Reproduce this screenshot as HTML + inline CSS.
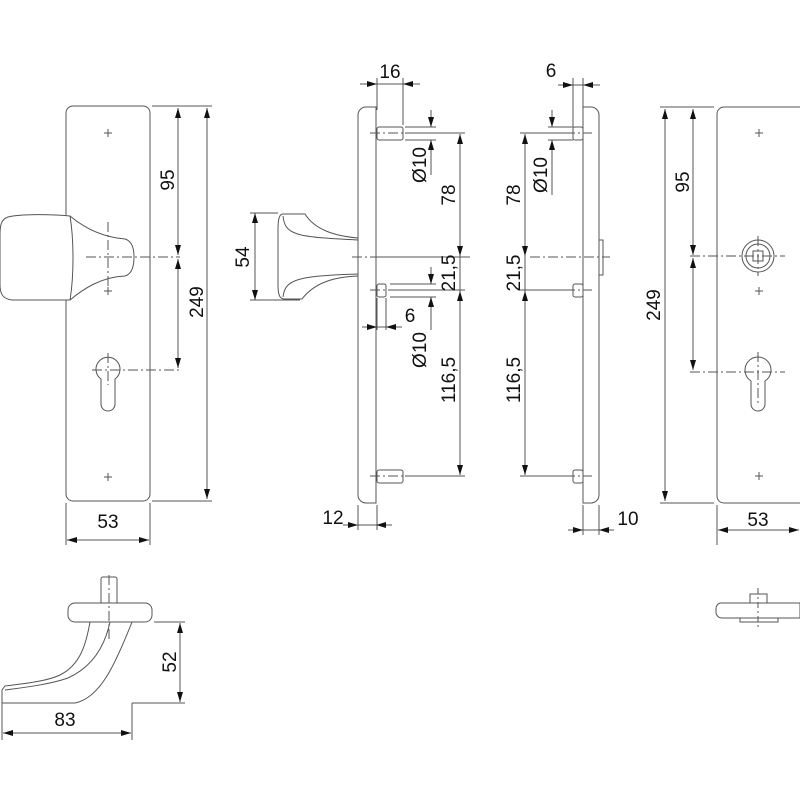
<!DOCTYPE html>
<html><head><meta charset="utf-8"><style>
html,body{margin:0;padding:0;background:#fff;}
svg{display:block;}
text{font-family:"Liberation Sans",sans-serif;font-size:19px;fill:#111;}
</style></head><body>
<svg width="800" height="800" viewBox="0 0 800 800" xmlns="http://www.w3.org/2000/svg">
<defs>
<marker id="a" viewBox="0 0 10 6" refX="10" refY="3" markerWidth="13" markerHeight="6" orient="auto-start-reverse" markerUnits="userSpaceOnUse"><path d="M0,0 L10,3 L0,6 z" fill="#111"/></marker>
</defs>
<g fill="none" stroke="#555" stroke-width="1">
<!-- LEFT PLATE -->
<rect x="66" y="106" width="84" height="395" rx="7"/>
<path d="M104,133h8M108,129v8 M104,291h8M108,287v8 M104,477h8M108,473v8 M104,243h8M108,239v8"/>
<path d="M101,379 A12,12 0 1 1 115,379 V404 a7,7 0 0 1 -14,0 Z"/>
<!-- knob -->
<path d="M70,216 C50,214 20,214 8,217 C1,219 0,226 0,235 L0,285 C0,294 3,299 12,300 L70,300 C82,290 100,277 125,276 C132,274 134,266 134,257 C134,248 132,241 125,239 C100,237 82,226 70,216 Z" fill="#fff"/>
<path d="M70,216 C74,240 74,276 70,300"/>
<g stroke-dasharray="10,3,2,3"><path d="M86,257H180 M108,222V292 M92,370H180 M108,353V385"/></g>
<!-- dims left -->
<path d="M152,106H212 M152,501H212"/>
<path d="M178,108V255" marker-start="url(#a)" marker-end="url(#a)"/>
<path d="M178,259V368" marker-start="url(#a)" marker-end="url(#a)"/>
<path d="M207,108V499" marker-start="url(#a)" marker-end="url(#a)"/>
<path d="M66,503V545 M150,503V545"/>
<path d="M67,540H149" marker-start="url(#a)" marker-end="url(#a)"/>

<!-- MIDDLE SIDE VIEW -->
<path d="M376,107V503 H366 a8,8 0 0 1 -8,-8 V115 a8,8 0 0 1 8,-8 Z" fill="#fff"/>
<rect x="377" y="127" width="26" height="13" rx="2"/>
<rect x="377" y="284" width="9" height="13" rx="2"/>
<rect x="377" y="470" width="26" height="13" rx="2"/>
<path d="M358,238 C335,236 315,230 305,214 L283,214 C279,214 278,220 278,230 L278,285 C278,296 280,299 285,299 L302,299 C315,282 335,277 358,276"/>
<path d="M283,216 C285,235 295,237 358,240 M283,297 C285,280 295,276 358,274"/>
<g stroke-dasharray="10,3,2,3"><path d="M370,133H440 M370,290H435 M370,476H440 M352,257H470"/></g>
<path d="M403,125V78 M377,78V110 M377,505V530 M358,505V530 M377,298V330 M386,298V330"/>
<path d="M360,84H377" marker-end="url(#a)"/><path d="M403,84H420" marker-start="url(#a)"/><path d="M377,84H403"/>
<path d="M343,525H358" marker-end="url(#a)"/><path d="M376,525H392" marker-start="url(#a)"/><path d="M358,525H376"/>
<path d="M362,327H377" marker-end="url(#a)"/><path d="M386,327H402" marker-start="url(#a)"/><path d="M377,327H386"/>
<path d="M255,213V300" marker-start="url(#a)" marker-end="url(#a)"/>
<path d="M250,213H278 M250,300H300"/>
<path d="M405,127H436 M405,140H436 M390,284H436 M390,297H436 M405,133H465 M390,290H465 M405,476H465 M380,257H465"/>
<path d="M431,110V127" marker-end="url(#a)"/><path d="M431,140V157" marker-start="url(#a)"/><path d="M431,157V175"/>
<path d="M431,267V284" marker-end="url(#a)"/><path d="M431,297V314" marker-start="url(#a)"/><path d="M431,314V330"/>
<path d="M460,134V256" marker-start="url(#a)" marker-end="url(#a)"/>
<path d="M460,256V291" />
<path d="M460,291V475" marker-start="url(#a)" marker-end="url(#a)"/>

<!-- RIGHT SIDE VIEW -->
<path d="M583,107V503 H591 a8,8 0 0 0 8,-8 V115 a8,8 0 0 0 -8,-8 Z" fill="#fff"/>
<rect x="573" y="127" width="10" height="13" rx="2"/>
<rect x="573" y="284" width="10" height="13" rx="2"/>
<rect x="573" y="470" width="10" height="13" rx="2"/>
<rect x="599" y="240" width="4" height="35"/>
<g stroke-dasharray="10,3,2,3"><path d="M565,133H592 M565,290H592 M565,476H592 M530,257H610"/></g>
<path d="M573,78V127 M583,78V110 M583,505V535 M599,505V535"/>
<path d="M558,85H573" marker-end="url(#a)"/><path d="M583,85H600" marker-start="url(#a)"/><path d="M573,85H583"/>
<path d="M568,530H583" marker-end="url(#a)"/><path d="M599,530H614" marker-start="url(#a)"/><path d="M583,530H599"/>
<path d="M548,127H573 M548,140H573 M520,133H573 M520,290H573 M520,476H573"/>
<path d="M552,110V127" marker-end="url(#a)"/><path d="M552,140V157" marker-start="url(#a)"/><path d="M552,157V195"/>
<path d="M525,134V256" marker-start="url(#a)" marker-end="url(#a)"/>
<path d="M525,256V291"/>
<path d="M525,291V475" marker-start="url(#a)" marker-end="url(#a)"/>

<!-- RIGHT PLATE -->
<rect x="717" y="107" width="90" height="396" rx="7"/>
<path d="M755,133h8M759,129v8 M755,291h8M759,287v8 M755,476h8M759,472v8"/>
<circle cx="758" cy="256" r="16"/><circle cx="758" cy="256" r="12"/>
<rect x="753" y="251" width="10" height="10"/>
<path d="M751,381 A13,13 0 1 1 765,381 V404 a7,7 0 0 1 -14,0 Z"/>
<g stroke-dasharray="10,3,2,3"><path d="M690,256H785 M758,236V276 M690,372H785 M758,352V405"/></g>
<path d="M660,107H714 M660,503H714"/>
<path d="M665,109V501" marker-start="url(#a)" marker-end="url(#a)"/>
<path d="M693,109V255" marker-start="url(#a)" marker-end="url(#a)"/>
<path d="M693,258V370" marker-start="url(#a)" marker-end="url(#a)"/>
<path d="M717,505V545"/>
<path d="M718,530H799" marker-start="url(#a)" marker-end="url(#a)"/>

<!-- BOTTOM LEFT HANDLE -->
<rect x="101" y="577" width="16" height="27" rx="2"/>
<path d="M75,603H145 a7,7 0 0 1 7,7 v5 a7,7 0 0 1 -7,7 H75 a7,7 0 0 1 -7,-7 v-5 a7,7 0 0 1 7,-7z" fill="#fff"/>
<path d="M90,622 C86,645 80,665 60,675 C45,682 20,684 5,686 L2,690 V703 L75,703 C100,698 115,665 132,622"/>
<path d="M110,622 C104,650 90,668 68,678 C48,685 20,688 5,690"/>
<g stroke-dasharray="10,3,2,3"><path d="M109,575V640"/></g>
<path d="M154,622H185 M132,703H185 M2,703V740 M132,703V740"/>
<path d="M180,623V702" marker-start="url(#a)" marker-end="url(#a)"/>
<path d="M3,733H131" marker-start="url(#a)" marker-end="url(#a)"/>

<!-- BOTTOM RIGHT -->
<rect x="750" y="594" width="17" height="9"/>
<path d="M720,603H800 V618 H722 a6,6 0 0 1 -6,-6 v-3 a6,6 0 0 1 4,-6z"/>
<rect x="740" y="618" width="38" height="4"/>
<g stroke-dasharray="6,3,2,3"><path d="M758,588V628"/></g>
</g>

<!-- TEXT -->
<text x="108" y="528" text-anchor="middle">53</text>
<text x="758" y="526" text-anchor="middle">53</text>
<text x="390" y="78" text-anchor="middle">16</text>
<text x="551" y="77" text-anchor="middle">6</text>
<text x="410" y="322" text-anchor="middle">6</text>
<text x="333" y="524" text-anchor="middle">12</text>
<text x="628" y="525" text-anchor="middle">10</text>
<text x="65" y="726" text-anchor="middle">83</text>
<g>
<text transform="translate(174,180) rotate(-90)" text-anchor="middle">95</text>
<text transform="translate(203,302) rotate(-90)" text-anchor="middle">249</text>
<text transform="translate(249,257) rotate(-90)" text-anchor="middle">54</text>
<text transform="translate(426,165) rotate(-90)" text-anchor="middle">Ø10</text>
<text transform="translate(455,195) rotate(-90)" text-anchor="middle">78</text>
<text transform="translate(455,273) rotate(-90)" text-anchor="middle">21,5</text>
<text transform="translate(426,350) rotate(-90)" text-anchor="middle">Ø10</text>
<text transform="translate(455,380) rotate(-90)" text-anchor="middle">116,5</text>
<text transform="translate(520,195) rotate(-90)" text-anchor="middle">78</text>
<text transform="translate(547,175) rotate(-90)" text-anchor="middle">Ø10</text>
<text transform="translate(520,273) rotate(-90)" text-anchor="middle">21,5</text>
<text transform="translate(520,380) rotate(-90)" text-anchor="middle">116,5</text>
<text transform="translate(660,305) rotate(-90)" text-anchor="middle">249</text>
<text transform="translate(689,182) rotate(-90)" text-anchor="middle">95</text>
<text transform="translate(176,662) rotate(-90)" text-anchor="middle">52</text>
</g>
</svg>
</body></html>
